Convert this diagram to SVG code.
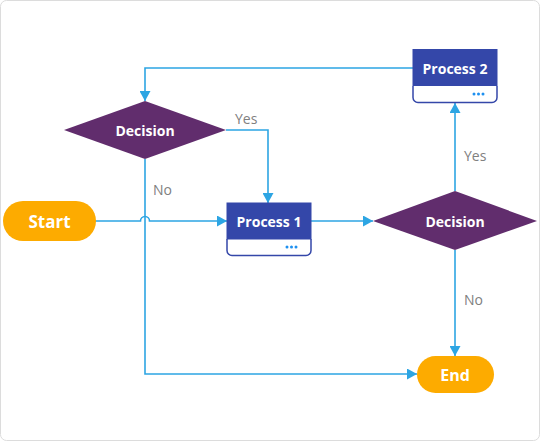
<svg xmlns="http://www.w3.org/2000/svg" width="540" height="441" viewBox="0 0 540 441">
<defs>
<style>
.bg{fill:#fff;stroke:#dcdcdc;stroke-width:1}
.term{fill:#FDAB00}
.dec{fill:#612D6D}
.band{fill:#3447A9}
.pbox{fill:#fff;stroke:#3447A9;stroke-width:1.5}
.t{font-family:"Open Sans","Noto Sans","DejaVu Sans",sans-serif;font-weight:bold;fill:#fff;text-anchor:middle;dominant-baseline:central}
.lbl{font-family:"Open Sans","Noto Sans","DejaVu Sans",sans-serif;font-size:14px;fill:#808080;dominant-baseline:central}
.c{fill:none;stroke:#2DA5E3;stroke-width:1.6}
.dots{fill:#1E90F0}
</style>
<marker id="ah" viewBox="0 0 10 10" refX="10" refY="5" markerWidth="10" markerHeight="11" markerUnits="userSpaceOnUse" orient="auto" preserveAspectRatio="none">
<path d="M0,0 L10,5 L0,10 Z" fill="#2DA5E3"/>
</marker>
</defs>
<rect class="bg" x="0.5" y="0.5" width="539" height="440" rx="6"/>
<g id="connectors">
<path class="c" d="M95,221 H140.5 A4.5,4.5 0 0 1 149.5,221 H227" marker-end="url(#ah)"/>
<path class="c" d="M226,130 H268 V203" marker-end="url(#ah)"/>
<path class="c" d="M145,159 V374 H417" marker-end="url(#ah)"/>
<path class="c" d="M311,221 H373" marker-end="url(#ah)"/>
<path class="c" d="M455,191 V103" marker-end="url(#ah)"/>
<path class="c" d="M455,250 V356" marker-end="url(#ah)"/>
<path class="c" d="M413,68 H145 V101" marker-end="url(#ah)"/>
<text class="lbl" x="235" y="118">Yes</text>
<text class="lbl" x="153" y="189">No</text>
<text class="lbl" x="464" y="155">Yes</text>
<text class="lbl" x="464" y="299">No</text>
</g>
<g id="start">
<rect class="term" x="3" y="201" width="93" height="40" rx="20"/>
<text class="t" x="49.5" y="221" font-size="17">Start</text>
</g>
<g id="decision1">
<polygon class="dec" points="145,101 226,130 145,159 64,130"/>
<text class="t" x="145" y="130" font-size="14">Decision</text>
</g>
<g id="process1">
<path class="pbox" d="M227,239 V250.5 A5,5 0 0 0 232,255.5 H306 A5,5 0 0 0 311,250.5 V239"/>
<rect class="band" x="226.5" y="202.5" width="85" height="37"/>
<text class="t" x="269" y="221" font-size="14">Process 1</text>
<circle class="dots" cx="287" cy="247" r="1.5"/><circle class="dots" cx="291.5" cy="247" r="1.5"/><circle class="dots" cx="296" cy="247" r="1.5"/>
</g>
<g id="decision2">
<polygon class="dec" points="455,191 537,221 455,250 373,221"/>
<text class="t" x="455" y="221" font-size="14">Decision</text>
</g>
<g id="process2">
<path class="pbox" d="M413,86 V97.5 A5,5 0 0 0 418,102.5 H492 A5,5 0 0 0 497,97.5 V86"/>
<rect class="band" x="412.5" y="49" width="85" height="37"/>
<text class="t" x="455" y="68" font-size="14">Process 2</text>
<circle class="dots" cx="474" cy="94" r="1.5"/><circle class="dots" cx="478.5" cy="94" r="1.5"/><circle class="dots" cx="483" cy="94" r="1.5"/>
</g>
<g id="end">
<rect class="term" x="417" y="356" width="77" height="37" rx="18.5"/>
<text class="t" x="455" y="374.5" font-size="16">End</text>
</g>
</svg>
